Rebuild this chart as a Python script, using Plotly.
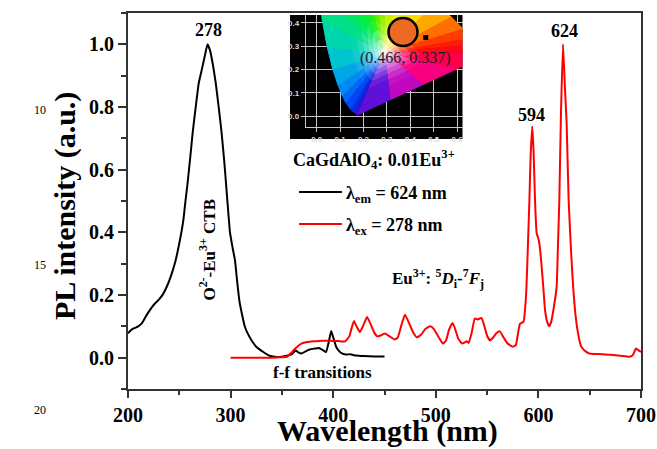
import math
import plotly.graph_objects as go

# ---------------- data ----------------
ex_wl = [200, 203, 206, 210, 214, 218, 222, 226, 230, 234, 238, 242, 246, 250, 254, 256, 258, 261, 263,
         266, 269, 272, 275, 277.5, 280, 283, 285.5, 288, 291, 294, 296.8, 299.4, 302, 304.3, 306.5,
         308.5, 311, 314, 317, 320.5, 325, 331.9, 338, 345, 350, 355, 360, 363.5, 366, 369, 373, 377,
         382, 386, 390, 393, 396, 398, 400, 403, 406, 409, 413, 417, 420, 425, 430, 440, 450]
ex_int = [0.078, 0.088, 0.094, 0.100, 0.112, 0.135, 0.155, 0.172, 0.185, 0.202, 0.228, 0.262, 0.305,
          0.365, 0.440, 0.500, 0.555, 0.650, 0.717, 0.800, 0.877, 0.920, 0.965, 1.000, 0.980, 0.930,
          0.877, 0.810, 0.725, 0.620, 0.503, 0.400, 0.350, 0.310, 0.240, 0.183, 0.140, 0.098, 0.075,
          0.055, 0.035, 0.018, 0.006, 0.002, 0.003, 0.006, 0.012, 0.023, 0.017, 0.013, 0.020, 0.026,
          0.029, 0.031, 0.024, 0.018, 0.055, 0.085, 0.065, 0.034, 0.020, 0.013, 0.010, 0.011, 0.008,
          0.006, 0.005, 0.004, 0.004]

em_wl = [300, 320, 340, 348, 355, 359, 363, 369, 375, 381, 390, 397, 405, 411.5, 415.7, 418, 420.3,
         423, 426, 429, 433, 436, 440, 443, 447, 450.5, 455, 460, 463, 467, 470, 474, 478, 481.5, 486,
         490, 494.5, 498, 502, 507, 510, 513, 516.4, 519, 522, 525.5, 528, 530, 532, 535, 538, 541,
         544.5, 547, 550, 553, 556, 559, 562.5, 566, 570, 575, 578, 580, 582, 585.5, 588, 590, 591.2,
         592.5, 594, 595.3, 596.7, 598.3, 600, 601.5, 603.2, 605, 606.5, 608.5, 610.6, 612.5, 615,
         617.8, 619, 620.4, 622, 624, 626, 627.5, 629.5, 632, 634, 635.7, 638, 640, 642, 646, 650, 655,
         663, 670, 680, 689, 692, 695, 697, 700]
em_int = [0.0, 0.0, 0.0, 0.001, 0.003, 0.015, 0.029, 0.045, 0.050, 0.052, 0.054, 0.054, 0.053, 0.052,
          0.068, 0.095, 0.117, 0.098, 0.082, 0.100, 0.130, 0.110, 0.080, 0.068, 0.072, 0.077, 0.068,
          0.058, 0.065, 0.110, 0.137, 0.110, 0.080, 0.065, 0.075, 0.092, 0.100, 0.092, 0.070, 0.045,
          0.055, 0.090, 0.111, 0.090, 0.060, 0.045, 0.048, 0.052, 0.047, 0.080, 0.125, 0.122, 0.127,
          0.105, 0.070, 0.055, 0.065, 0.078, 0.084, 0.065, 0.045, 0.035, 0.040, 0.075, 0.108, 0.115,
          0.200, 0.380, 0.500, 0.650, 0.738, 0.660, 0.503, 0.397, 0.380, 0.350, 0.290, 0.215, 0.151,
          0.115, 0.100, 0.115, 0.160, 0.226, 0.350, 0.503, 0.780, 1.000, 0.850, 0.750, 0.500, 0.330,
          0.220, 0.151, 0.090, 0.055, 0.034, 0.020, 0.013, 0.012, 0.011, 0.009, 0.006, 0.003, 0.008,
          0.029, 0.025, 0.018]

x_ticks = [200, 300, 400, 500, 600, 700]
y_ticks = [0.0, 0.2, 0.4, 0.6, 0.8, 1.0]
x_title = "Wavelength (nm)"
y_title = "PL intensity (a.u.)"

# CIE 1931 chromaticity boundary (spectral locus + purple line) for the inset
cie_x = [0.1741, 0.1566, 0.1440, 0.1241, 0.1096, 0.0913, 0.0687, 0.0454, 0.0235, 0.0082, 0.0039,
         0.0139, 0.0743, 0.1547, 0.2296, 0.3016, 0.3731, 0.4441, 0.5125, 0.5752, 0.6270, 0.6658,
         0.6915, 0.7190, 0.7347, 0.5946, 0.4544, 0.3143]
cie_y = [0.0050, 0.0177, 0.0297, 0.0578, 0.0868, 0.1327, 0.2007, 0.2950, 0.4127, 0.5384, 0.6548,
         0.7502, 0.8338, 0.8059, 0.7543, 0.6923, 0.6245, 0.5547, 0.4866, 0.4242, 0.3725, 0.3340,
         0.3083, 0.2809, 0.2653, 0.2002, 0.1352, 0.0701]
cie_col = ['#3010d0', '#1020e0', '#0038f0', '#0058f8', '#0078f8', '#0098f0', '#00b8e0', '#00d0c0',
           '#00dc98', '#00e478', '#00ea58', '#00f040', '#10f020', '#40f000', '#80f000', '#b0f000',
           '#e0f000', '#fff000', '#ffc000', '#ff9000', '#ff5000', '#ff2800', '#ff1010', '#ff0020',
           '#ff0030', '#ff0060', '#f000a0', '#9010e0']
white_pt = (0.29, 0.27)
cie_point = (0.466, 0.337)
cie_ticks_x = [0.0, 0.1, 0.2, 0.3, 0.4, 0.5, 0.6]
cie_ticks_y = [0.0, 0.1, 0.2, 0.3, 0.4]

# ---------------- helpers (pixel -> paper) ----------------
L, R, T, B = 128, 16, 13, 60
W, H = 657, 449
def px(x):
    return (x - L) / (W - L - R)
def py(y):
    return (H - B - y) / (H - T - B)

SERIF = "Liberation Serif"
fig = go.Figure()

fig.add_trace(go.Scatter(x=ex_wl, y=ex_int, mode="lines", line=dict(color="black", width=2, shape="spline", smoothing=0.4),
                         showlegend=False, hoverinfo="skip"))
fig.add_trace(go.Scatter(x=em_wl, y=em_int, mode="lines", line=dict(color="#ff0000", width=2, shape="spline", smoothing=0.4),
                         showlegend=False, hoverinfo="skip"))

# ---------------- inset CIE diagram ----------------
def hex2rgb(h):
    h = h.lstrip('#')
    return [int(h[i:i + 2], 16) for i in (0, 2, 4)]

def mix(c, w):
    m = [round(c[i] * (1 - w) + 255 * w) for i in range(3)]
    return "rgb(%d,%d,%d)" % tuple(m)

rings = [1.0, 0.85, 0.7, 0.56, 0.44, 0.34, 0.25, 0.17, 0.1, 0.04, 0.0]
wx, wy = white_pt
n = len(cie_x)
for i in range(n):
    j = (i + 1) % n
    ca, cb = hex2rgb(cie_col[i]), hex2rgb(cie_col[j])
    cmid = [(ca[k] + cb[k]) / 2 for k in range(3)]
    dist = (math.hypot(cie_x[i] - wx, cie_y[i] - wy) + math.hypot(cie_x[j] - wx, cie_y[j] - wy)) / 2
    for r in range(len(rings) - 1):
        s0, s1 = rings[r], rings[r + 1]
        d = (s0 + s1) / 2 * dist
        wgt = max(0.0, 1 - d / 0.15) ** 1.6
        col = mix(cmid, wgt)
        qx = [wx + s0 * (cie_x[i] - wx), wx + s0 * (cie_x[j] - wx), wx + s1 * (cie_x[j] - wx), wx + s1 * (cie_x[i] - wx)]
        qy = [wy + s0 * (cie_y[i] - wy), wy + s0 * (cie_y[j] - wy), wy + s1 * (cie_y[j] - wy), wy + s1 * (cie_y[i] - wy)]
        fig.add_trace(go.Scatter(x=qx + [qx[0]], y=qy + [qy[0]], xaxis="x2", yaxis="y2", mode="lines",
                                 fill="toself", fillcolor=col, line=dict(color=col, width=1),
                                 showlegend=False, hoverinfo="skip"))

fig.add_trace(go.Scatter(x=[cie_point[0]], y=[cie_point[1]], xaxis="x2", yaxis="y2", mode="markers",
                         marker=dict(symbol="square", size=5, color="black"), showlegend=False, hoverinfo="skip"))

shapes = []
# black inset background
shapes.append(dict(type="rect", xref="paper", yref="paper", x0=px(290), x1=px(462.5), y0=py(139), y1=py(15),
                   fillcolor="black", line=dict(width=0), layer="below"))
# orange sample circle
shapes.append(dict(type="circle", xref="paper", yref="paper", x0=px(388.5), x1=px(417.5), y0=py(46), y1=py(18),
                   fillcolor="#ec6a24", line=dict(color="black", width=2.5), layer="above"))
# legend lines
shapes.append(dict(type="line", xref="x", yref="y", x0=366.7, x1=408.5, y0=0.529, y1=0.529,
                   line=dict(color="black", width=2)))
shapes.append(dict(type="line", xref="x", yref="y", x0=366.7, x1=408.5, y0=0.4266, y1=0.4266,
                   line=dict(color="#ff0000", width=2)))

ann = []
def A(text, x, y, size=18, xref="x", yref="y", xanchor="center", yanchor="middle", angle=0, color="black", family=SERIF):
    ann.append(dict(text=text, x=x, y=y, xref=xref, yref=yref, xanchor=xanchor, yanchor=yanchor,
                    textangle=angle, showarrow=False, font=dict(family=family, size=size, color=color)))

A("<b>278</b>", 278, 1.047)
A("<b>594</b>", 592.8, 0.775)
A("<b>624</b>", 625.4, 1.041)
A("<b>O<sup>2-</sup>-Eu<sup>3+</sup> CTB</b>", 277, 0.345, size=17, angle=-90)
A("<b>f-f transitions</b>", 390, -0.047, size=17)
A("<b>Eu<sup>3+</sup>: <sup>5</sup><i>D</i><sub>i</sub>-<sup>7</sup><i>F</i><sub>j</sub></b>", 502, 0.254, size=17)
A("<b>CaGdAlO<sub>4</sub>: 0.01Eu<sup>3+</sup></b>", 359.0, 0.631, size=18, xanchor="left")
A("<b>λ<sub>em</sub> = 624 nm</b>", 410.5, 0.522, size=18, xanchor="left")
A("<b>λ<sub>ex</sub> = 278 nm</b>", 410.5, 0.420, size=18, xanchor="left")
A("(0.466, 0.337)", px(405.5), py(58), size=16, xref="paper", yref="paper", color="#1c1c2c")
# axis titles
A("<b>%s</b>" % x_title, px(387), py(431), size=30, xref="paper", yref="paper")
A("<b>%s</b>" % y_title, px(65), py(206), size=30, xref="paper", yref="paper", angle=-90)
# manuscript line numbers
for t, yy in (("10", 110), ("15", 265), ("20", 410)):
    A(t, px(40), py(yy), size=12, xref="paper", yref="paper")

axis_col = "#333333"
fig.update_layout(
    width=W, height=H,
    margin=dict(l=L, r=R, t=T, b=B, autoexpand=False),
    paper_bgcolor="white", plot_bgcolor="rgba(0,0,0,0)",
    font=dict(family=SERIF, color="black"),
    shapes=shapes, annotations=ann, showlegend=False,
    xaxis=dict(range=[200, 700], tickvals=x_ticks, ticks="outside", ticklen=7, tickwidth=2, tickcolor=axis_col,
               showline=True, linecolor=axis_col, linewidth=2, mirror=True, showgrid=False, zeroline=False,
               automargin=False,
               minor=dict(dtick=50, ticks="outside", ticklen=4, tickwidth=1.5, tickcolor=axis_col),
               tickfont=dict(family=SERIF, size=20, weight="bold")),
    yaxis=dict(range=[-0.1, 1.1], tickvals=y_ticks, tickformat=".1f", ticks="outside", ticklen=8, tickwidth=2,
               tickcolor=axis_col, showline=True, linecolor=axis_col, linewidth=2, mirror=True, showgrid=False,
               zeroline=False, automargin=False,
               minor=dict(dtick=0.1, tick0=0, ticks="outside", ticklen=5, tickwidth=1.5, tickcolor=axis_col),
               tickfont=dict(family=SERIF, size=20, weight="bold")),
    xaxis2=dict(domain=[px(305.7), px(462.5)], anchor="y2", range=[-0.047, 0.623], tickvals=cie_ticks_x,
                tickformat=".1f", showgrid=True, gridcolor="#c8c8c8", gridwidth=1, zeroline=False, automargin=False,
                showline=True, linecolor="#c8c8c8", linewidth=1, ticks="outside", ticklen=4, tickcolor="#c8c8c8",
                tickfont=dict(family="Liberation Sans", size=8, color="#dddddd", weight="bold")),
    yaxis2=dict(domain=[py(127.3), py(15)], anchor="x2", range=[-0.048, 0.433], tickvals=cie_ticks_y,
                tickformat=".1f", showgrid=True, gridcolor="#c8c8c8", gridwidth=1, zeroline=False, automargin=False,
                showline=True, linecolor="#c8c8c8", linewidth=1, ticks="outside", ticklen=4, tickcolor="#c8c8c8",
                tickfont=dict(family="Liberation Sans", size=8, color="#dddddd", weight="bold")),
)

fig.write_html("out.html", config={"displayModeBar": False},
               post_script="document.body.style.margin='0';document.body.style.padding='0';")
